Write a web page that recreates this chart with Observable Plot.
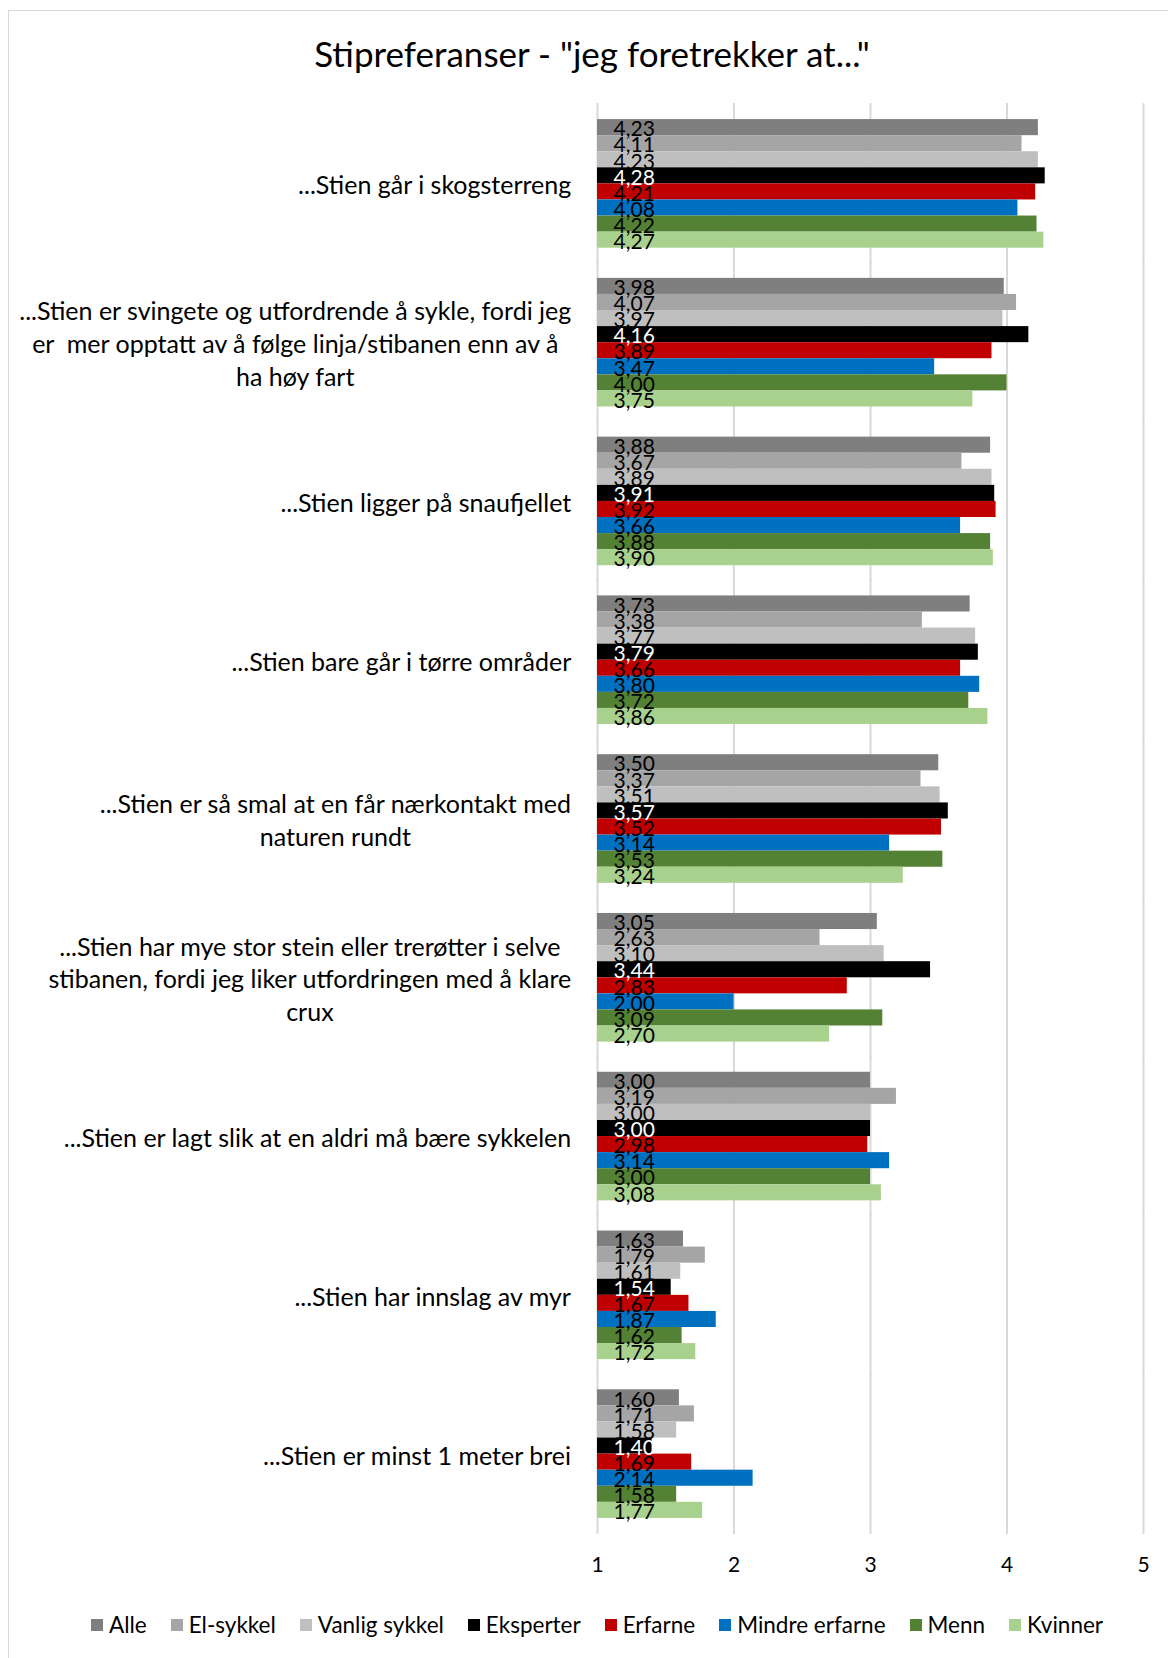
<!DOCTYPE html>
<html>
<head>
<meta charset="utf-8">
<script src="https://cdn.jsdelivr.net/npm/d3@7"></script>
<script src="https://cdn.jsdelivr.net/npm/@observablehq/plot@0.6"></script>
<style>
  body { margin: 0; background: #fff; font-family: Lato, "Open Sans", sans-serif; }
  #wrap { position: relative; width: 1168px; height: 1658px; overflow: hidden; }
  #border { position: absolute; left: 8px; top: 10px; width: 1180px; height: 1680px; border: 1.5px solid #d9d9d9; box-sizing: border-box; }
  #title { position: absolute; left: 0; top: 31px; width: 1184px; text-align: center; font-size: 35px; color: #000; line-height: 44px; }
  #chart { position: absolute; left: 0; top: 0; }
  #legend { position: absolute; left: 13px; top: 1610px; width: 1168px; display: flex; justify-content: center; gap: 24px; font-size: 22.5px; color: #000; line-height: 30px; }
  #legend .item { display: flex; align-items: center; }
  #legend .sw { width: 12px; height: 12px; margin-right: 6px; }
</style>
</head>
<body>
<div id="wrap">
  <div id="border"></div>
  <div id="title">Stipreferanser - "jeg foretrekker at..."</div>
  <div id="chart"></div>
  <div id="legend"></div>
</div>
<script>
const categories = [
  "...Stien går i skogsterreng",
  "...Stien er svingete og utfordrende å sykle, fordi jeg\ner  mer opptatt av å følge linja/stibanen enn av å\nha høy fart",
  "...Stien ligger på snaufjellet",
  "...Stien bare går i tørre områder",
  "...Stien er så smal at en får nærkontakt med\nnaturen rundt",
  "...Stien har mye stor stein eller trerøtter i selve\nstibanen, fordi jeg liker utfordringen med å klare\ncrux",
  "...Stien er lagt slik at en aldri må bære sykkelen",
  "...Stien har innslag av myr",
  "...Stien er minst 1 meter brei"
];
const series = ["Alle", "El-sykkel", "Vanlig sykkel", "Eksperter", "Erfarne", "Mindre erfarne", "Menn", "Kvinner"];
const colors = ["#7f7f7f", "#a5a5a5", "#bfbfbf", "#000000", "#c00000", "#0070c0", "#548235", "#a9d18e"];
const skogsterreng = [4.23, 4.11, 4.23, 4.28, 4.21, 4.08, 4.22, 4.27];
const svingete     = [3.98, 4.07, 3.97, 4.16, 3.89, 3.47, 4.00, 3.75];
const snaufjellet  = [3.88, 3.67, 3.89, 3.91, 3.92, 3.66, 3.88, 3.90];
const torre        = [3.73, 3.38, 3.77, 3.79, 3.66, 3.80, 3.72, 3.86];
const smal         = [3.50, 3.37, 3.51, 3.57, 3.52, 3.14, 3.53, 3.24];
const stein        = [3.05, 2.63, 3.10, 3.44, 2.83, 2.00, 3.09, 2.70];
const baere        = [3.00, 3.19, 3.00, 3.00, 2.98, 3.14, 3.00, 3.08];
const myr          = [1.63, 1.79, 1.61, 1.54, 1.67, 1.87, 1.62, 1.72];
const brei         = [1.60, 1.71, 1.58, 1.40, 1.69, 2.14, 1.58, 1.77];
const values = [skogsterreng, svingete, snaufjellet, torre, smal, stein, baere, myr, brei];
const xTicks = [1, 2, 3, 4, 5];

async function draw() {
  try { await document.fonts.load("25px Lato"); } catch (e) {}
  const data = categories.flatMap((c, i) => series.map((s, j) => ({category: c, series: s, value: values[i][j]})));
  const ctx = document.createElement("canvas").getContext("2d");
  ctx.font = "25px Lato";
  const labelMarks = categories.map(c => {
    const w = Math.max(...c.split("\n").map(l => ctx.measureText(l).width));
    return Plot.text([c], {
      fy: d => d, text: d => d, frameAnchor: "left", textAnchor: "middle",
      dx: -(26 + w / 2), lineAnchor: "middle", lineHeight: 1.31, fontSize: 25, fill: "#000"
    });
  });
  const chart = Plot.plot({
    width: 1168, height: 1600,
    marginTop: 104, marginBottom: 67, marginLeft: 597, marginRight: 25,
    style: {fontFamily: "Lato", fontSize: "20px", color: "#000", background: "transparent"},
    x: {domain: [xTicks[0], xTicks[xTicks.length - 1]]},
    fy: {domain: categories, paddingInner: 0.19, paddingOuter: 0.095, round: false, axis: null},
    y: {domain: series, padding: 0, round: false, axis: null},
    color: {domain: series, range: colors},
    marks: [
      Plot.ruleX(xTicks, {x: d => d, stroke: "#d9d9d9", strokeWidth: 2, insetTop: -16, insetBottom: -16}),
      Plot.barX(data, {fy: "category", y: "series", x1: () => xTicks[0], x2: "value", fill: "series"}),
      Plot.text(data, {
        fy: "category", y: "series", x: () => xTicks[0],
        text: d => d.value.toFixed(2).replace(".", ","),
        textAnchor: "start", dx: 16, dy: 2, fontSize: 21,
        fill: d => d.series === "Eksperter" ? "#fff" : "#000"
      }),
      ...labelMarks,
      Plot.axisX(xTicks, {tickSize: 0, tickPadding: 39, fontSize: 21, tickFormat: d => String(d), anchor: "bottom", label: null})
    ]
  });
  document.getElementById("chart").appendChild(chart);
  const legend = document.getElementById("legend");
  series.forEach((s, i) => {
    const item = document.createElement("div");
    item.className = "item";
    item.innerHTML = `<span class="sw" style="background:${colors[i]}"></span><span>${s}</span>`;
    legend.appendChild(item);
  });
}
draw();
</script>
</body>
</html>
